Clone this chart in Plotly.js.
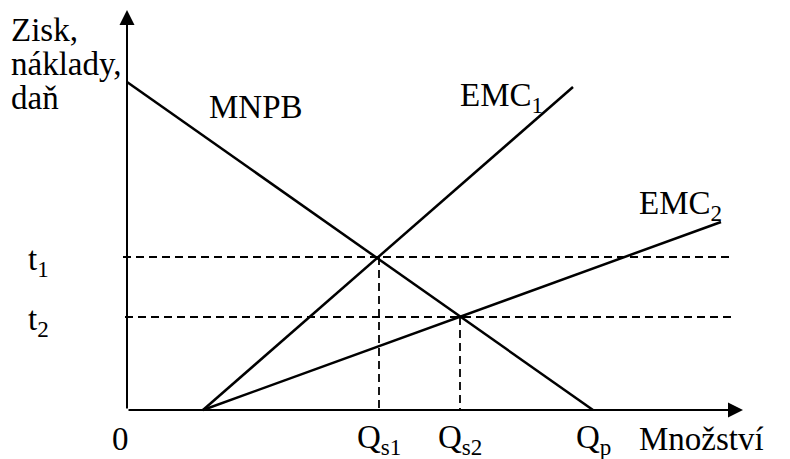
<!DOCTYPE html>
<html>
<head>
<meta charset="utf-8">
<script src="https://cdn.plot.ly/plotly-3.0.1.min.js"></script>
<style>html,body{margin:0;padding:0;background:#fff}</style>
</head>
<body>
<div id="chart" style="width:790px;height:459px"></div>
<script>
// Quantity positions (arbitrary units)
const qStart = 7.6;      // where EMC curves start on the x axis
const qS1 = 25.2;        // Q_s1
const qS2 = 33.3;        // Q_s2
const qP = 46.6;         // Q_p
const qAxisEnd = 61.6;
const qDashEnd = 60.7;
// Value positions
const yAxisEnd = 40.0;
const mnpbIntercept = 32.8;
const t1 = 15.3;
const t2 = 9.3;

// Curves
const mnpbX = [0, qP];
const mnpbY = [mnpbIntercept, 0];
const emc1X = [qStart, 44.6];
const emc1Y = [0, 32.3];
const emc2X = [qStart, 59.4];
const emc2Y = [0, 18.8];

// Tick labels
const xTickLabels = ['0', 'Q<sub>s1</sub>', 'Q<sub>s2</sub>', 'Q<sub>p</sub>'];
const xTickVals = [-0.7, qS1, qS2, qP];
const yTickLabels = ['t<sub>1</sub>', 't<sub>2</sub>'];
const yTickVals = [t1, t2];
const yTitleLines = ['Zisk,', 'náklady,', 'daň'];
const xTitle = 'Množství';

const black = '#000';
const solid = {color: black, width: 2.5};
const dashed = {color: black, width: 1.8, dash: '8px,5px'};

const traces = [
  {x: mnpbX, y: mnpbY, mode: 'lines', line: solid, hoverinfo: 'skip'},
  {x: emc1X, y: emc1Y, mode: 'lines', line: solid, hoverinfo: 'skip'},
  {x: emc2X, y: emc2Y, mode: 'lines', line: solid, hoverinfo: 'skip'},
  {x: [-0.4, qDashEnd], y: [t1, t1], mode: 'lines', line: dashed, hoverinfo: 'skip'},
  {x: [-0.2, qDashEnd], y: [t2, t2], mode: 'lines', line: dashed, hoverinfo: 'skip'},
  {x: [qS1, qS1], y: [t1, 0], mode: 'lines', line: dashed, hoverinfo: 'skip'},
  {x: [qS2, qS2], y: [t2, 0], mode: 'lines', line: dashed, hoverinfo: 'skip'}
];

const font = {family: 'Liberation Serif', size: 33, color: black};
const ann = [];
// axes with arrows
ann.push({x: qAxisEnd, y: 0, ax: 0, ay: 0, xref: 'x', yref: 'y', axref: 'x', ayref: 'y',
  text: '', showarrow: true, arrowhead: 2, arrowsize: 1.5, arrowwidth: 2, arrowcolor: black});
ann.push({x: 0, y: yAxisEnd, ax: 0, ay: 0, xref: 'x', yref: 'y', axref: 'x', ayref: 'y',
  text: '', showarrow: true, arrowhead: 2, arrowsize: 1.5, arrowwidth: 2, arrowcolor: black});

function label(text, x, y, xanchor) {
  ann.push({x: x, y: y, xref: 'x', yref: 'y', text: text, showarrow: false,
    xanchor: xanchor || 'center', yanchor: 'middle', font: font});
}
// y title
const titleY = [38.0, 34.6, 31.2];
yTitleLines.forEach((t, i) => label(t, -11.8, titleY[i], 'left'));
// curve labels
label('MNPB', 12.9, 30.3);
label('EMC<sub>1</sub>', 37.4, 31.3);
label('EMC<sub>2</sub>', 55.3, 20.5);
// y tick labels
yTickLabels.forEach((t, i) => label(t, -8.9, yTickVals[i] - 0.4));
// x tick labels
xTickLabels.forEach((t, i) => label(t, xTickVals[i], -2.9));
label(xTitle, 57.4, -2.9);

const layout = {
  width: 790, height: 459,
  margin: {l: 0, r: 0, t: 0, b: 0},
  paper_bgcolor: '#fff', plot_bgcolor: '#fff',
  showlegend: false,
  xaxis: {range: [-12.7, 66.3], visible: false, fixedrange: true},
  yaxis: {range: [-4.9, 41.0], visible: false, fixedrange: true},
  annotations: ann
};
Plotly.newPlot('chart', traces, layout, {displayModeBar: false});
</script>
</body>
</html>
